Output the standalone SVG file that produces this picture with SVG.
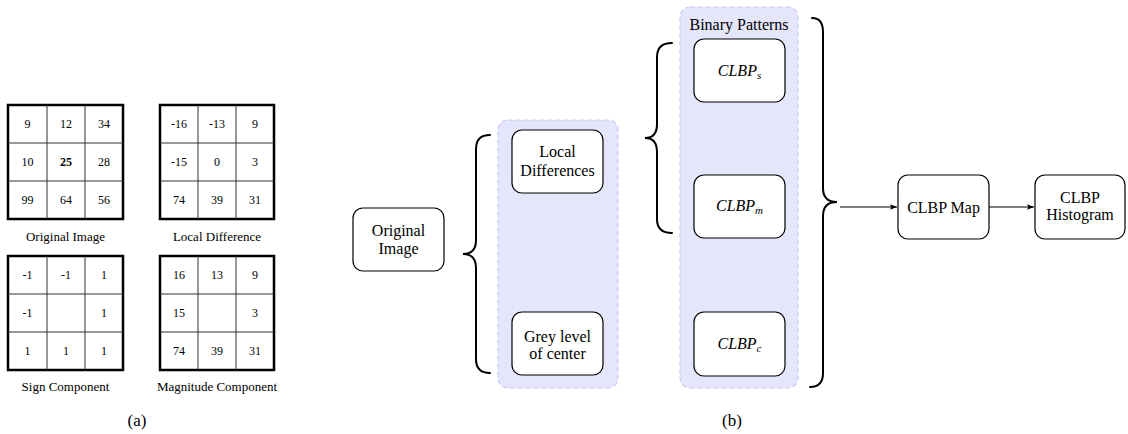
<svg xmlns="http://www.w3.org/2000/svg" width="1128" height="434" viewBox="0 0 1128 434" font-family="'Liberation Serif', 'Times New Roman', 'DejaVu Serif', serif">
<style>
text{font-family:'Liberation Serif','Times New Roman','DejaVu Serif',serif;fill:#000;text-anchor:middle}
.num{font-size:12px}
.cap{font-size:13px}
.big{font-size:17px}
.t{font-size:16px}
.it{font-style:italic}
.sub{font-size:11px}
.outer{fill:#fff;stroke:#000;stroke-width:2.5}
.inner{stroke:#333;stroke-width:1;fill:none}
.box{fill:#fff;stroke:#000;stroke-width:1.2}
.grp{fill:#e5e5fc;stroke:#c8c8f6;stroke-width:1.2;stroke-dasharray:5 3}
.brace{fill:none;stroke:#000;stroke-width:2;stroke-linecap:round}
.conn{fill:none;stroke:#000;stroke-width:1.1}
</style>
<defs>
<marker id="arr" viewBox="0 0 10 10" refX="10" refY="5" markerWidth="7" markerHeight="7" markerUnits="userSpaceOnUse" orient="auto">
<path d="M0,1 L10,5 L0,9 L2,5 Z" fill="#000"/>
</marker>
</defs>

<!-- (a) grids -->
<g id="grid-original">
<rect class="outer" x="8" y="105" width="115" height="114"/>
<path class="inner" d="M47,105V219M85,105V219M8,143H123M8,181H123"/>
<text class="num" x="27.5" y="128">9</text><text class="num" x="66" y="128">12</text><text class="num" x="104" y="128">34</text>
<text class="num" x="27.5" y="166">10</text><text class="num" x="66" y="166" font-weight="bold">25</text><text class="num" x="104" y="166">28</text>
<text class="num" x="27.5" y="204">99</text><text class="num" x="66" y="204">64</text><text class="num" x="104" y="204">56</text>
<text class="cap" x="65.5" y="241">Original Image</text>
</g>
<g id="grid-localdiff">
<rect class="outer" x="160" y="105" width="114" height="114"/>
<path class="inner" d="M198,105V219M236,105V219M160,143H274M160,181H274"/>
<text class="num" x="179" y="128">-16</text><text class="num" x="217" y="128">-13</text><text class="num" x="255" y="128">9</text>
<text class="num" x="179" y="166">-15</text><text class="num" x="217" y="166">0</text><text class="num" x="255" y="166">3</text>
<text class="num" x="179" y="204">74</text><text class="num" x="217" y="204">39</text><text class="num" x="255" y="204">31</text>
<text class="cap" x="217" y="241">Local Difference</text>
</g>
<g id="grid-sign">
<rect class="outer" x="8" y="256" width="115" height="114"/>
<path class="inner" d="M47,256V370M85,256V370M8,294H123M8,332H123"/>
<text class="num" x="27.5" y="279">-1</text><text class="num" x="66" y="279">-1</text><text class="num" x="104" y="279">1</text>
<text class="num" x="27.5" y="317">-1</text><text class="num" x="104" y="317">1</text>
<text class="num" x="27.5" y="355">1</text><text class="num" x="66" y="355">1</text><text class="num" x="104" y="355">1</text>
<text class="cap" x="65.5" y="391">Sign Component</text>
</g>
<g id="grid-magnitude">
<rect class="outer" x="160" y="256" width="114" height="114"/>
<path class="inner" d="M198,256V370M236,256V370M160,294H274M160,332H274"/>
<text class="num" x="179" y="279">16</text><text class="num" x="217" y="279">13</text><text class="num" x="255" y="279">9</text>
<text class="num" x="179" y="317">15</text><text class="num" x="255" y="317">3</text>
<text class="num" x="179" y="355">74</text><text class="num" x="217" y="355">39</text><text class="num" x="255" y="355">31</text>
<text class="cap" x="217" y="391">Magnitude Component</text>
</g>
<text class="big" x="137" y="426">(a)</text>

<!-- (b) groups -->
<g id="group-features">
<rect class="grp" x="498" y="120" width="120" height="268" rx="10"/>
</g>
<g id="group-binary">
<rect class="grp" x="680" y="7" width="118" height="381" rx="10"/>
<text class="t" x="739" y="29.5">Binary Patterns</text>
</g>

<g id="node-original">
<rect class="box" x="353" y="208" width="91" height="63" rx="10"/>
<text class="t" x="398.5" y="236">Original</text>
<text class="t" x="398.5" y="253.5">Image</text>
</g>
<g id="node-localdiff">
<rect class="box" x="512" y="130" width="91" height="63" rx="10"/>
<text class="t" x="557.5" y="156.5">Local</text>
<text class="t" x="557.5" y="175.5">Differences</text>
</g>
<g id="node-grey">
<rect class="box" x="512" y="312" width="91" height="63" rx="10"/>
<text class="t" x="557.5" y="342">Grey level</text>
<text class="t" x="557.5" y="358.5">of center</text>
</g>
<g id="node-clbps">
<rect class="box" x="694" y="39" width="91" height="63" rx="10"/>
<text class="t it" x="739.5" y="76">CLBP<tspan class="sub" dy="3">s</tspan></text>
</g>
<g id="node-clbpm">
<rect class="box" x="694" y="175" width="91" height="63" rx="10"/>
<text class="t it" x="739.5" y="211">CLBP<tspan class="sub" dy="3">m</tspan></text>
</g>
<g id="node-clbpc">
<rect class="box" x="694" y="312" width="91" height="64" rx="10"/>
<text class="t it" x="739.5" y="348.5">CLBP<tspan class="sub" dy="3">c</tspan></text>
</g>
<g id="node-map">
<rect class="box" x="898" y="175" width="91" height="64" rx="10"/>
<text class="t" x="943.5" y="212.5">CLBP Map</text>
</g>
<g id="node-hist">
<rect class="box" x="1035" y="175" width="90" height="64" rx="10"/>
<text class="t" x="1080" y="202.7">CLBP</text>
<text class="t" x="1080" y="220">Histogram</text>
</g>
<text class="big" x="732" y="426">(b)</text>

<g id="connectors">
<path class="brace" d="M490,135 Q476,135 476,149 L476,240 Q476,254 463,254 Q476,254 476,268 L476,359 Q476,373 490,373"/>
<path class="brace" d="M672,43 Q657,43 657,57 L657,124 Q657,138 645,138 Q657,138 657,152 L657,219 Q657,233 672,233"/>
<path class="brace" d="M812,18 Q823,18 823,32 L823,188 Q823,202 837,202 Q823,202 823,216 L823,373 Q823,387 810,387"/>
<path class="conn" d="M840,207 H897" marker-end="url(#arr)"/>
<path class="conn" d="M989,207 H1034" marker-end="url(#arr)"/>
</g>
</svg>
